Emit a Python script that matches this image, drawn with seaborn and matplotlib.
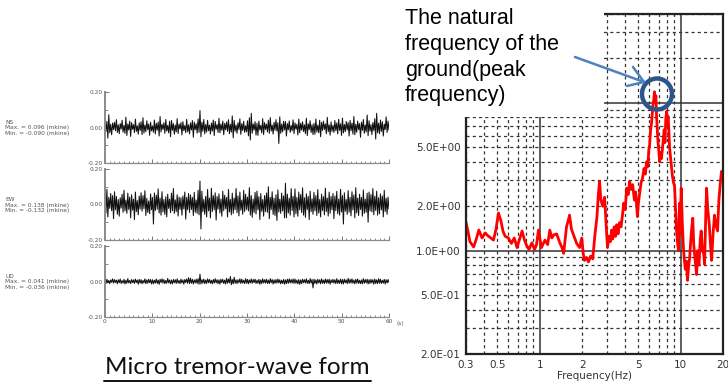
import numpy as np
import matplotlib
matplotlib.use("Agg")
import matplotlib.pyplot as plt
from matplotlib.ticker import FixedLocator, FuncFormatter, LogLocator, MultipleLocator, FormatStrFormatter
from matplotlib.patches import Rectangle, Ellipse
from matplotlib.lines import Line2D
import seaborn as sns

# micro tremor traces (values in 1/1000 mkine)
ns_vals = [8, -22, 35, -60, 72, -30, 18, -41, 25, -12,
           30, -18, 44, -28, 15, -35, 22, -9, 40, -26,
           12, -33, 58, -45, 20, -14, 36, -50, 28, -10,
           16, -29, 47, -22, 10, -38, 26, -17, 33, -40,
           55, -31, 14, -24, 38, -12, 20, -44, 30, -19,
           9, -27, 42, -36, 24, -15, 31, -48, 62, -25,
           18, -11, 27, -33, 45, -20, 12, -30, 35, -52,
           40, -16, 22, -38, 14, -25, 50, -34, 19, -8,
           28, -42, 33, -18, 11, -29, 46, -24, 15, -36,
           26, -14, 39, -55, 30, -12, 21, -32, 48, -27,
           95, -52, 30, -21, 45, -36, 17, -26, 40, -18,
           13, -37, 25, -20, 42, -46, 34, -10, 17, -28,
           52, -30, 20, -16, 36, -41, 23, -13, 31, -22,
           44, -35, 18, -26, 65, -58, 40, -21, 14, -33,
           27, -12, 49, -39, 22, -17, 35, -28, 10, -24,
           38, -47, 55, -70, 80, -32, 20, -15, 33, -43,
           24, -44, 36, -14, 12, -31, 50, -40, 28, -11,
           19, -25, 41, -33, 56, -20, 14, -37, 29, -16,
           44, -20, 27, -90, 60, -33, 19, -25, 35, -14,
           34, -48, 22, -13, 37, -27, 11, -19, 43, -35,
           26, -9, 18, -42, 47, -30, 24, -15, 32, -23,
           15, -34, 52, -45, 21, -12, 38, -28, 16, -40,
           23, -38, 48, -26, 13, -30, 41, -52, 29, -17,
           36, -11, 20, -35, 57, -24, 15, -43, 31, -22,
           12, -28, 39, -18, 26, -36, 46, -16, 21, -45,
           53, -31, 17, -23, 34, -14, 28, -48, 40, -19,
           25, -37, 62, -41, 18, -27, 36, -12, 22, -55,
           30, -16, 45, -33, 14, -25, 70, -46, 38, -21,
           16, -40, 28, -18, 50, -65, 80, -30, 24, -35,
           42, -22, 33, -48, 19, -12, 60, -28, 36, -15]
ew_vals = [15, -48, 85, -70, 40, -22, 62, -35, 50, -80,
           72, -30, 45, -55, 28, -66, 38, -20, 58, -44,
           80, -36, 25, -50, 64, -28, 42, -75, 55, -32,
           30, -85, 70, -40, 22, -58, 47, -26, 66, -38,
           50, -24, 78, -62, 35, -45, 20, -52, 60, -30,
           40, -110, 65, -34, 52, -27, 88, -48, 36, -60,
           72, -42, 28, -56, 44, -70, 58, -22, 30, -46,
           64, -35, 90, -50, 26, -40, 55, -65, 42, -28,
           38, -60, 48, -25, 70, -82, 40, -30, 62, -45,
           54, -28, 40, -62, 68, -44, 25, -50, 80, -58,
           132, -138, 75, -40, 28, -55, 46, -70, 85, -36,
           36, -75, 92, -40, 50, -30, 66, -88, 45, -26,
           60, -48, 30, -66, 75, -35, 52, -24, 40, -70,
           85, -42, 28, -58, 64, -50, 36, -30, 90, -46,
           48, -64, 70, -32, 25, -55, 80, -40, 58, -28,
           42, -36, 95, -60, 50, -72, 30, -45, 68, -54,
           76, -30, 44, -85, 62, -38, 28, -66, 50, -40,
           65, -44, 100, -80, 40, -28, 72, -56, 35, -62,
           55, -90, 82, -42, 30, -50, 64, -36, 48, -75,
           120, -75, 58, -48, 36, -60, 90, -34, 46, -70,
           88, -52, 40, -66, 70, -30, 56, -45, 94, -60,
           38, -72, 60, -28, 46, -85, 75, -40, 32, -55,
           68, -36, 50, -62, 84, -48, 28, -70, 58, -34,
           44, -58, 92, -40, 36, -65, 70, -50, 45, -30,
           62, -80, 48, -35, 74, -52, 30, -60, 86, -42,
           50, -110, 66, -38, 28, -56, 78, -44, 40, -64,
           72, -30, 54, -75, 95, -48, 36, -62, 58, -28,
           40, -66, 82, -50, 30, -44, 64, -100, 70, -36,
           56, -42, 90, -58, 46, -34, 75, -60, 38, -52,
           60, -30, 48, -70, 80, -40, 35, -55, 42, -25]
ud_vals = [4, -10, 13, -8, 6, -12, 9, -5, 15, -9,
           11, -6, 8, -13, 10, -7, 14, -11, 5, -9,
           12, -14, 7, -10, 16, -8, 6, -12, 11, -7,
           9, -11, 14, -6, 8, -15, 12, -9, 10, -13,
           6, -8, 15, -12, 9, -10, 13, -7, 11, -14,
           10, -13, 7, -9, 14, -11, 8, -16, 12, -6,
           15, -9, 11, -12, 6, -10, 17, -8, 9, -13,
           8, -14, 12, -7, 10, -11, 15, -9, 6, -12,
           13, -8, 9, -15, 11, -6, 14, -10, 22, -12,
           18, -10, 12, -14, 9, -8, 13, -11, 16, -15,
           41, -14, 10, -9, 14, -12, 8, -11, 15, -7,
           12, -10, 7, -13, 11, -9, 16, -8, 10, -12,
           9, -15, 13, -6, 12, -11, 8, -14, 18, -10,
           14, -8, 28, -18, 11, -13, 24, -10, 9, -12,
           10, -7, 15, -11, 13, -9, 7, -12, 16, -10,
           12, -13, 9, -8, 14, -10, 11, -6, 13, -11,
           7, -10, 12, -15, 9, -12, 15, -8, 10, -9,
           13, -11, 8, -12, 16, -7, 11, -14, 9, -10,
           11, -9, 14, -8, 10, -13, 7, -11, 12, -15,
           9, -12, 13, -10, 15, -8, 11, -9, 14, -11,
           14, -10, 8, -13, 11, -16, 9, -12, 13, -7,
           10, -8, 15, -11, 7, -12, 16, -9, 11, -36,
           13, -11, 9, -14, 12, -8, 10, -13, 15, -10,
           8, -12, 14, -9, 11, -10, 13, -15, 9, -7,
           12, -9, 10, -12, 16, -11, 8, -10, 14, -13,
           11, -14, 13, -7, 9, -12, 18, -10, 12, -9,
           15, -10, 8, -13, 12, -9, 14, -11, 7, -12,
           9, -13, 16, -10, 11, -8, 13, -14, 10, -11,
           12, -8, 10, -15, 14, -11, 9, -12, 16, -10,
           13, -11, 7, -9, 12, -14, 10, -8, 11, -6]
components = ["NS", "EW", "UD"]
max_labels = ["0.096", "0.138", "0.041"]
min_labels = ["-0.090", "-0.132", "-0.036"]
duration = 60

# Fourier spectrum ratio (red curve)
freq = [0.30, 0.31, 0.32, 0.34, 0.355, 0.37, 0.39, 0.41, 0.43, 0.45,
        0.47, 0.49, 0.51, 0.53, 0.55, 0.57, 0.60, 0.63, 0.66, 0.69,
        0.72, 0.75, 0.78, 0.81, 0.84, 0.88, 0.92, 0.95, 0.98, 1.03,
        1.09, 1.14, 1.18, 1.22, 1.26, 1.32, 1.39, 1.44, 1.48, 1.55,
        1.60, 1.63, 1.68, 1.74, 1.83, 1.92, 1.99, 2.04, 2.08, 2.15,
        2.22, 2.30, 2.38, 2.46, 2.55, 2.60, 2.66, 2.72, 2.80, 2.89,
        2.95, 3.03, 3.10, 3.17, 3.24, 3.30, 3.38, 3.45, 3.52, 3.60,
        3.69, 3.78, 3.88, 3.95, 4.05, 4.14, 4.25, 4.35, 4.45, 4.57,
        4.70, 4.80, 4.94, 5.02, 5.11, 5.25, 5.37, 5.50, 5.62, 5.74,
        5.85, 5.95, 6.03, 6.12, 6.23, 6.35, 6.45, 6.53, 6.60, 6.68,
        6.75, 6.82, 6.90, 7.00, 7.10, 7.20, 7.30, 7.44, 7.55, 7.65,
        7.75, 7.85, 7.96, 8.05, 8.15, 8.23, 8.35, 8.50, 8.60, 8.75,
        8.90, 9.06, 9.20, 9.35, 9.50, 9.66, 9.75, 9.85, 9.95, 10.1,
        10.3, 10.45, 10.6, 10.8, 11.0, 11.2, 11.4, 11.6, 11.9, 12.2,
        12.4, 12.7, 13.0, 13.2, 13.5, 13.8, 14.0, 14.3, 14.6, 14.8,
        15.1, 15.3, 15.6, 16.0, 16.3, 16.6, 17.0, 17.4, 17.8, 18.3,
        18.7, 19.1, 19.5, 20.0]
amp = [1.55, 1.35, 1.15, 1.06, 1.20, 1.38, 1.22, 1.32, 1.26, 1.22,
       1.18, 1.40, 1.80, 1.60, 1.35, 1.25, 1.22, 1.12, 1.22, 1.05,
       1.20, 1.36, 1.18, 1.08, 1.02, 1.13, 1.02, 1.10, 1.38, 1.05,
       1.18, 1.10, 1.38, 1.22, 1.28, 1.30, 1.13, 1.05, 0.96, 1.45,
       1.62, 1.74, 1.40, 1.28, 1.12, 1.05, 1.22, 0.95, 0.86, 0.90,
       0.84, 0.92, 0.88, 1.25, 1.70, 2.30, 2.95, 2.20, 2.00, 2.30,
       1.60, 1.05, 1.25, 1.15, 1.38, 1.20, 1.45, 1.25, 1.50, 1.30,
       1.55, 1.45, 1.78, 2.10, 1.90, 2.65, 2.40, 2.95, 2.60, 2.80,
       2.20, 2.50, 1.70, 2.10, 2.40, 2.90, 3.10, 3.60, 3.30, 4.00,
       3.70, 4.80, 5.20, 6.50, 7.40, 9.50, 10.5, 11.9, 10.2, 11.2,
       8.20, 6.80, 5.60, 4.80, 4.00, 4.60, 4.20, 4.90, 5.80, 6.60,
       5.40, 7.80, 8.80, 7.20, 8.10, 7.00, 5.00, 4.20, 3.80, 3.20,
       2.90, 2.75, 2.00, 1.40, 1.15, 1.00, 1.60, 2.10, 1.30, 2.65,
       1.50, 1.10, 0.90, 0.75, 0.85, 0.63, 0.78, 0.90, 1.30, 1.66,
       1.10, 0.85, 0.69, 1.00, 0.80, 1.20, 1.36, 1.00, 0.95, 0.81,
       1.80, 2.65, 1.90, 1.49, 1.10, 0.86, 1.30, 1.74, 1.50, 1.36,
       2.20, 2.80, 3.44, 3.00]
x_labelled = [0.3, 0.5, 1, 2, 5, 10, 20]
y_labelled = [0.2, 0.5, 1, 2, 5]

sns.set_theme(style="white")
plt.rcParams["font.family"] = ["DejaVu Sans"]

W, H = 728, 389
fig = plt.figure(figsize=(W / 100, H / 100), dpi=100)


def fx(px):
    return px / W


def fy(py):
    return 1 - py / H


def only(values, fmt):
    return FuncFormatter(lambda v, p: format(v, fmt) if any(abs(v - q) < 1e-6 for q in values) else "")


# ---- left: three wave forms ----
traces = [ns_vals, ew_vals, ud_vals]
tops = [92, 169, 246]
for i, (name, vals) in enumerate(zip(components, traces)):
    top = tops[i]
    ax = fig.add_axes([fx(105), fy(top + 71), fx(389) - fx(105), 71 / H])
    y = np.array(vals) / 1000.0
    t = np.linspace(0, duration, len(y))
    sns.lineplot(x=t, y=y, ax=ax, color="#111", lw=0.75, estimator=None, sort=False)
    ax.set_xlim(0, duration)
    ax.set_ylim(-0.2, 0.2)
    for s in ["top", "right"]:
        ax.spines[s].set_visible(False)
    ax.spines["left"].set_color("#8a8a8a")
    ax.spines["left"].set_linewidth(1.4)
    ax.spines["bottom"].set_color("#8a8a8a")
    ax.spines["bottom"].set_linewidth(0.9)
    ax.yaxis.set_major_locator(FixedLocator([-0.2, 0.0, 0.2]))
    ax.yaxis.set_minor_locator(FixedLocator([-0.1, 0.1]))
    ax.yaxis.set_major_formatter(FormatStrFormatter("%.2f"))
    ax.xaxis.set_major_locator(MultipleLocator(10))
    ax.xaxis.set_minor_locator(MultipleLocator(1))
    ax.tick_params(axis="both", which="both", direction="in", colors="#777",
                   labelcolor="#555", labelsize=4.2, pad=1.5, left=True, bottom=True)
    ax.tick_params(axis="both", which="major", length=3, width=0.7)
    ax.tick_params(axis="both", which="minor", length=1.8, width=0.6)
    if i < 2:
        ax.tick_params(axis="x", labelbottom=False)
    ax.set_xlabel("")
    ax.set_ylabel("")
    ax.patch.set_alpha(0)
    fig.text(fx(5), fy(top + 36), f"{name}\nMax. = {max_labels[i]} (mkine)\nMin. = {min_labels[i]} (mkine)",
             fontsize=4.2, color="#555", va="center", ha="left", linespacing=1.15)

fig.text(fx(397), fy(324), "(s)", fontsize=4.2, color="#555", va="center", ha="left")

# caption
fig.text(fx(237), fy(368), "Micro tremor-wave form", fontsize=17.5, family="Lato",
         ha="center", va="center", color="#111")
fig.add_artist(Line2D([fx(104), fx(371)], [fy(381), fy(381)], color="#111", lw=1.4))

# ---- right: spectrum ----
axr = fig.add_axes([fx(466), fy(354), fx(723) - fx(466), (354 - 14) / H])
sns.lineplot(x=freq, y=amp, ax=axr, color="#ff0000", lw=2.0, estimator=None, sort=False)
axr.set_xscale("log")
axr.set_yscale("log")
axr.set_xlim(0.3, 20)
axr.set_ylim(0.2, 40)
axr.xaxis.set_major_locator(LogLocator(base=10))
axr.xaxis.set_minor_locator(LogLocator(base=10, subs=np.arange(2, 10)))
axr.yaxis.set_major_locator(LogLocator(base=10))
axr.yaxis.set_minor_locator(LogLocator(base=10, subs=np.arange(2, 10)))
axr.xaxis.set_major_formatter(only(x_labelled, "g"))
axr.xaxis.set_minor_formatter(only(x_labelled, "g"))
axr.yaxis.set_major_formatter(only(y_labelled, ".1E"))
axr.yaxis.set_minor_formatter(only(y_labelled, ".1E"))
axr.grid(which="major", color="#333", lw=1.1, ls="-")
axr.grid(which="minor", color="#333", lw=0.9, ls=(0, (2.5, 2.5)))
axr.tick_params(axis="both", which="both", length=0, labelsize=7.5, labelcolor="#333", pad=4)
for s in axr.spines.values():
    s.set_color("#222")
    s.set_linewidth(1.6)
axr.set_xlabel("Frequency(Hz)", fontsize=7.5, color="#333", labelpad=1)
axr.set_ylabel("")

# white box carrying the annotation text
fig.add_artist(Rectangle((fx(398), fy(116.5)), fx(603.5) - fx(398), 116.5 / H,
                         transform=fig.transFigure, facecolor="white", edgecolor="none", zorder=5))
fig.text(fx(405), fy(8), "The natural\nfrequency of the\nground(peak\nfrequency)",
         family="Liberation Sans", fontsize=15.5, va="top", ha="left", linespacing=1.3,
         color="black", zorder=6)
fig.add_artist(Ellipse((fx(657), fy(94)), 30 / W, 31 / H, transform=fig.transFigure,
                       facecolor="none", edgecolor="#2c5689", lw=3.2, zorder=7))
fig.add_artist(Line2D([fx(575), fx(644)], [fy(57), fy(82)], color="#4f81bd", lw=1.8, zorder=7))
fig.add_artist(Line2D([fx(633), fx(644)], [fy(67), fy(82)], color="#4f81bd", lw=1.8, zorder=7))
fig.add_artist(Line2D([fx(627), fx(644)], [fy(86), fy(82)], color="#4f81bd", lw=1.8, zorder=7))

fig.savefig("out.png", dpi=100)
